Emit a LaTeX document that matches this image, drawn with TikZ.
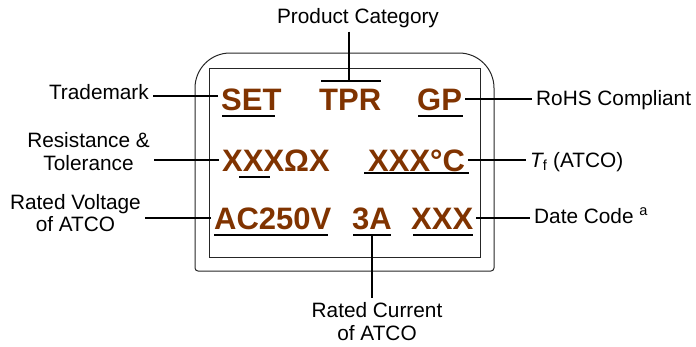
\documentclass[tikz,border=0pt]{standalone}
\usepackage{fontspec}
\setmainfont{Liberation Sans}
\definecolor{markbrown}{RGB}{128,51,0}

\begin{document}
\begin{tikzpicture}[
    x=1pt, y=-1pt,
    lab/.style={inner sep=4pt, align=center,
      font=\fontsize{20.8}{22.5}\selectfont},
    mtext/.style={text=markbrown, inner sep=3pt, text height=22pt,
      text depth=0pt, font=\fontsize{31}{31}\selectfont\bfseries},
    frame/.style={line width=1pt, black!85},
    lead/.style={line width=1.3pt},
    uline/.style={line width=1.6pt}
  ]
  \useasboundingbox (0,0) rectangle (696,346);
  %---- FRAME ----
  \draw[frame] (195,268) -- (195,88) arc[start angle=180, end angle=270, radius=35]
    -- (459,53) arc[start angle=270, end angle=360, radius=35]
    -- (494,268) arc[start angle=0, end angle=90, radius=3]
    -- (198,271) arc[start angle=90, end angle=180, radius=3] -- cycle;
  \draw[frame] (209,68) rectangle (480,257);
  %---- MARKING ----
  \node[mtext, anchor=base west] (set)  at (218,110) {SET};
  \node[mtext, anchor=base west] (tpr)  at (316,110) {TPR};
  \node[mtext, anchor=base west] (gp)   at (414,110) {GP};
  \node[mtext, anchor=base west] (xres) at (219,171) {XXXΩX};
  \node[mtext, anchor=base west] (temp) at (365,171) {XXX°C};
  \node[mtext, anchor=base west] (ac)   at (211,229) {AC250V};
  \node[mtext, anchor=base west] (amp)  at (349,229) {3A};
  \node[mtext, anchor=base west] (date) at (408,229) {XXX};
  \draw[uline] (222,116) -- (275,116);
  \draw[uline] (321,81)  -- (381,81);
  \draw[uline] (418,116) -- (463,116);
  \draw[uline] (239,177) -- (270,177);
  \draw[uline] (364,173) -- (469,173);
  \draw[uline] (214,235) -- (328,235);
  \draw[uline] (353,235) -- (391,235);
  \draw[uline] (413,235) -- (473,235);
  \coordinate (tprbar) at (349,81);
  \coordinate (abar)   at (372,235);
  %---- LABELS ----
  \node[lab, anchor=base] (pcat) at (358,23) {Product Category};
  \node[lab, anchor=base east] (tmark) at (153,99) {Trademark};
  \node[lab, anchor=east] (restol) at (154,151.5) {Resistance \&\\Tolerance};
  \node[lab, anchor=east] (ratedv) at (145,213) {Rated Voltage\\of ATCO};
  \node[lab] (ratedc) at (377,321.5) {Rated Current\\of ATCO};
  \node[lab, anchor=base west] (rohs)  at (532,105) {RoHS Compliant};
  \node[lab, anchor=base west] (tf)    at (526,167) {{\itshape T}\textsubscript{f} (ATCO)};
  \node[lab, anchor=base west] (datec) at (530,223) {Date Code \textsuperscript{a}};
  %---- LEADERS ----
  \draw[lead] ([yshift=3pt]set.west) -- ([yshift=3pt]set.west -| tmark.east);
  \draw[lead] (xres.west) -- (xres.west -| restol.east);
  \draw[lead] (ac.west)   -- (ac.west -| ratedv.east);
  \draw[lead] (gp.east)   -- (gp.east -| rohs.west);
  \draw[lead] (temp.east) -- (temp.east -| tf.west);
  \draw[lead] (date.east) -- (date.east -| datec.west);
  \draw[lead] (pcat.south -| tprbar) -- (tprbar);
  \draw[lead] (abar) -- (abar |- ratedc.north);
\end{tikzpicture}
\end{document}
